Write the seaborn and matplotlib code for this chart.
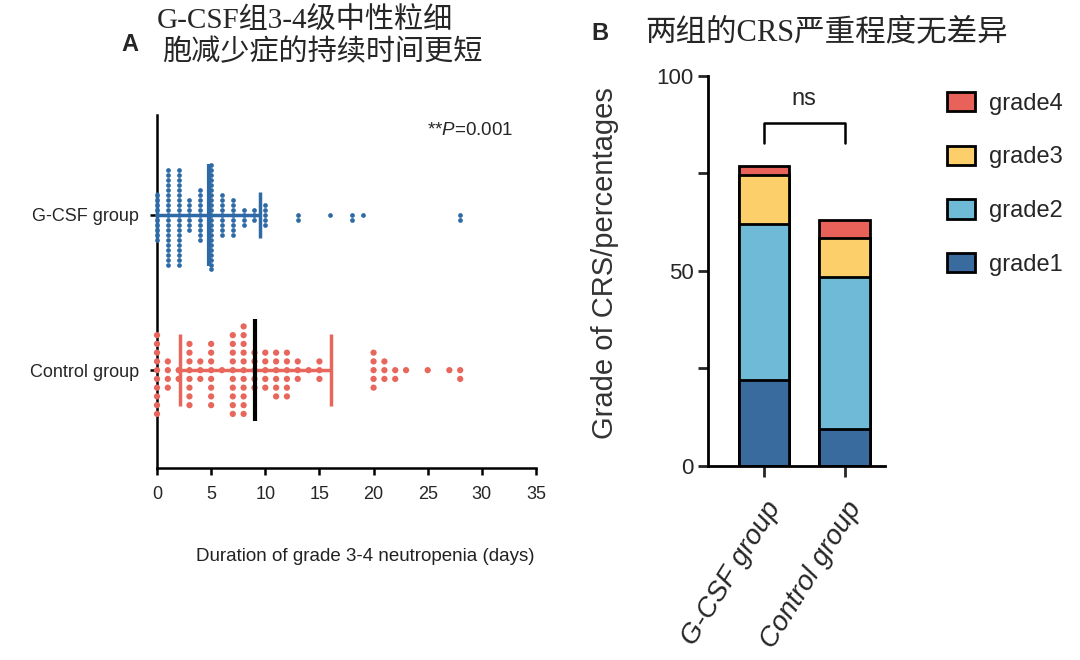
import numpy as np
import pandas as pd
import seaborn as sns
import matplotlib.pyplot as plt
from matplotlib.patches import Patch

sns.set_style('ticks')
plt.rcParams['font.family'] = ['Liberation Sans', 'Noto Sans CJK SC']
plt.rcParams['mathtext.fontset'] = 'custom'
plt.rcParams['mathtext.it'] = 'Liberation Sans:italic'
plt.rcParams['mathtext.rm'] = 'Liberation Sans'

# panel A: duration of grade 3-4 neutropenia (days), one dot per patient
groups = ['G-CSF group', 'Control group']
gcsf_days = [0, 1, 2, 3, 4, 5, 6, 7, 8, 9, 10, 13, 16, 18, 19, 28]
gcsf_counts = [10, 20, 20, 7, 11, 22, 9, 8, 4, 3, 5, 2, 1, 2, 1, 2]
ctrl_days = [0, 1, 2, 3, 4, 5, 6, 7, 8, 9, 10, 11, 12, 13, 14, 15, 20, 21, 22, 23, 25, 27, 28]
ctrl_counts = [10, 4, 2, 8, 3, 8, 1, 10, 11, 5, 5, 6, 6, 3, 1, 3, 5, 3, 2, 1, 1, 1, 2]
p_label = '**$\\it{P}$=0.001'
title_a = ['G-CSF组3-4级中性粒细', '胞减少症的持续时间更短']

# panel B: CRS grade percentages
bar_groups = ['G-CSF group', 'Control group']
grade1 = [22, 9.5]
grade2 = [40, 39]
grade3 = [12.5, 10]
grade4 = [2.5, 4.5]
title_b = '两组的CRS严重程度无差异'

blue = '#2E6AA6'
red = '#E8675C'
grade_colors = {'grade1': '#3A6B9E', 'grade2': '#6FBBD7',
                'grade3': '#FDCF6A', 'grade4': '#E9625A'}

fig = plt.figure(figsize=(10.8, 6.6), dpi=100)
# x from -0.6 so dots at 0 are not clipped; left spine placed at x=0 (pixel 157)
ax1 = fig.add_axes([150.5 / 1080, 0.291, 385.5 / 1080, 0.535])
ax2 = fig.add_axes([0.6556, 0.294, 0.164, 0.591])

#%% panel A
df_g = pd.DataFrame({'days': np.repeat(gcsf_days, gcsf_counts), 'group': groups[0]})
df_c = pd.DataFrame({'days': np.repeat(ctrl_days, ctrl_counts), 'group': groups[1]})

sns.swarmplot(data=df_g, x='days', y='group', order=groups, color=blue,
              size=3.4, linewidth=0, ax=ax1)
sns.swarmplot(data=df_c, x='days', y='group', order=groups, color=red,
              size=4.5, linewidth=1.5, edgecolor='none', ax=ax1)

# mean +/- SD
for i, (df, col, capw, mcol) in enumerate([(df_g, blue, 0.15, blue),
                                           (df_c, red, 0.23, 'black')]):
    m = df['days'].mean()
    sd = df['days'].std()
    lo, hi = max(m - sd, 0), m + sd
    ax1.hlines(i, lo, hi, color=col, lw=2.5, zorder=3)
    caps = [hi] if m - sd < 0 else [lo, hi]
    ax1.vlines(caps, i - capw, i + capw, color=col, lw=2.5, zorder=3)
    ax1.vlines(m, i - 0.33, i + 0.33, color=mcol, lw=3, zorder=4)

ax1.set_xlim(-0.6, 35)
ax1.set_ylim(1.63, -0.645)
ax1.set_xticks(range(0, 36, 5))
ax1.set_ylabel('')
ax1.set_xlabel('Duration of grade 3-4 neutropenia (days)', fontsize=13.5, color='#222222')
ax1.xaxis.set_label_coords(0.557, -0.228)
ax1.tick_params(axis='both', labelsize=13, length=5, width=1.8, color='black', pad=8)
sns.despine(ax=ax1)
ax1.spines['left'].set_position(('data', 0))
ax1.spines['bottom'].set_bounds(0, 35)
for s in ['left', 'bottom']:
    ax1.spines[s].set_linewidth(1.8)
    ax1.spines[s].set_color('black')
ax1.text(0.83, 0.955, p_label, transform=ax1.transAxes, ha='center', va='center', fontsize=13.5)

#%% panel B: stacked bars drawn as cumulative heights, top segment first
levels = [grade1, grade2, grade3, grade4]
cum = np.cumsum(np.array(levels), axis=0)
for k in [3, 2, 1, 0]:
    sns.barplot(x=bar_groups, y=cum[k], color=grade_colors[f'grade{k + 1}'],
                saturation=1, edgecolor='black', linewidth=2, width=0.625, ax=ax2)

ax2.set_xlim(-0.69, 1.5)
ax2.set_ylim(0, 100)
ax2.set_yticks([0, 50, 100])
ax2.set_yticks([25, 75], minor=True)
ax2.tick_params(axis='y', which='both', labelsize=16, length=7, width=2)
ax2.tick_params(axis='x', length=8, width=2, pad=14)
ax2.set_xticks([0, 1])
ax2.set_xticklabels(bar_groups, rotation=58, ha='right', rotation_mode='anchor',
                    style='italic', fontsize=20)
ax2.set_ylabel('Grade of CRS/percentages', fontsize=21, color='#333333')
ax2.yaxis.set_label_coords(-0.5, 0.52)
sns.despine(ax=ax2)
for s in ['left', 'bottom']:
    ax2.spines[s].set_linewidth(2)
    ax2.spines[s].set_color('black')

# significance bracket
ax2.plot([0, 0, 1, 1], [82.8, 88, 88, 82.8], color='black', lw=1.8, clip_on=False)
ax2.text(0.5, 94, 'ns', ha='center', va='center', fontsize=17)

handles = [Patch(facecolor=grade_colors[g], edgecolor='black', linewidth=2)
           for g in ['grade4', 'grade3', 'grade2', 'grade1']]
fig.legend(handles, ['grade4', 'grade3', 'grade2', 'grade1'], loc='upper left',
           bbox_to_anchor=(0.857, 0.893), frameon=False, fontsize=17,
           handlelength=1.2, handleheight=0.9, labelspacing=1.3, handletextpad=0.6)

#%% titles
serif_cjk = ['Liberation Serif', 'Noto Sans CJK SC']
fig.text(0.2824, 0.968, title_a[0], ha='center', va='center', fontsize=21, family=serif_cjk)
fig.text(0.298, 0.921, title_a[1], ha='center', va='center', fontsize=21, family=serif_cjk)
fig.text(0.120, 0.932, 'A', ha='center', va='center', fontsize=17, fontweight='bold')
fig.text(0.5556, 0.95, 'B', ha='center', va='center', fontsize=17, fontweight='bold')
fig.text(0.597, 0.95, title_b, ha='left', va='center', fontsize=22, family=serif_cjk)

fig.savefig('out.png', dpi=100)
